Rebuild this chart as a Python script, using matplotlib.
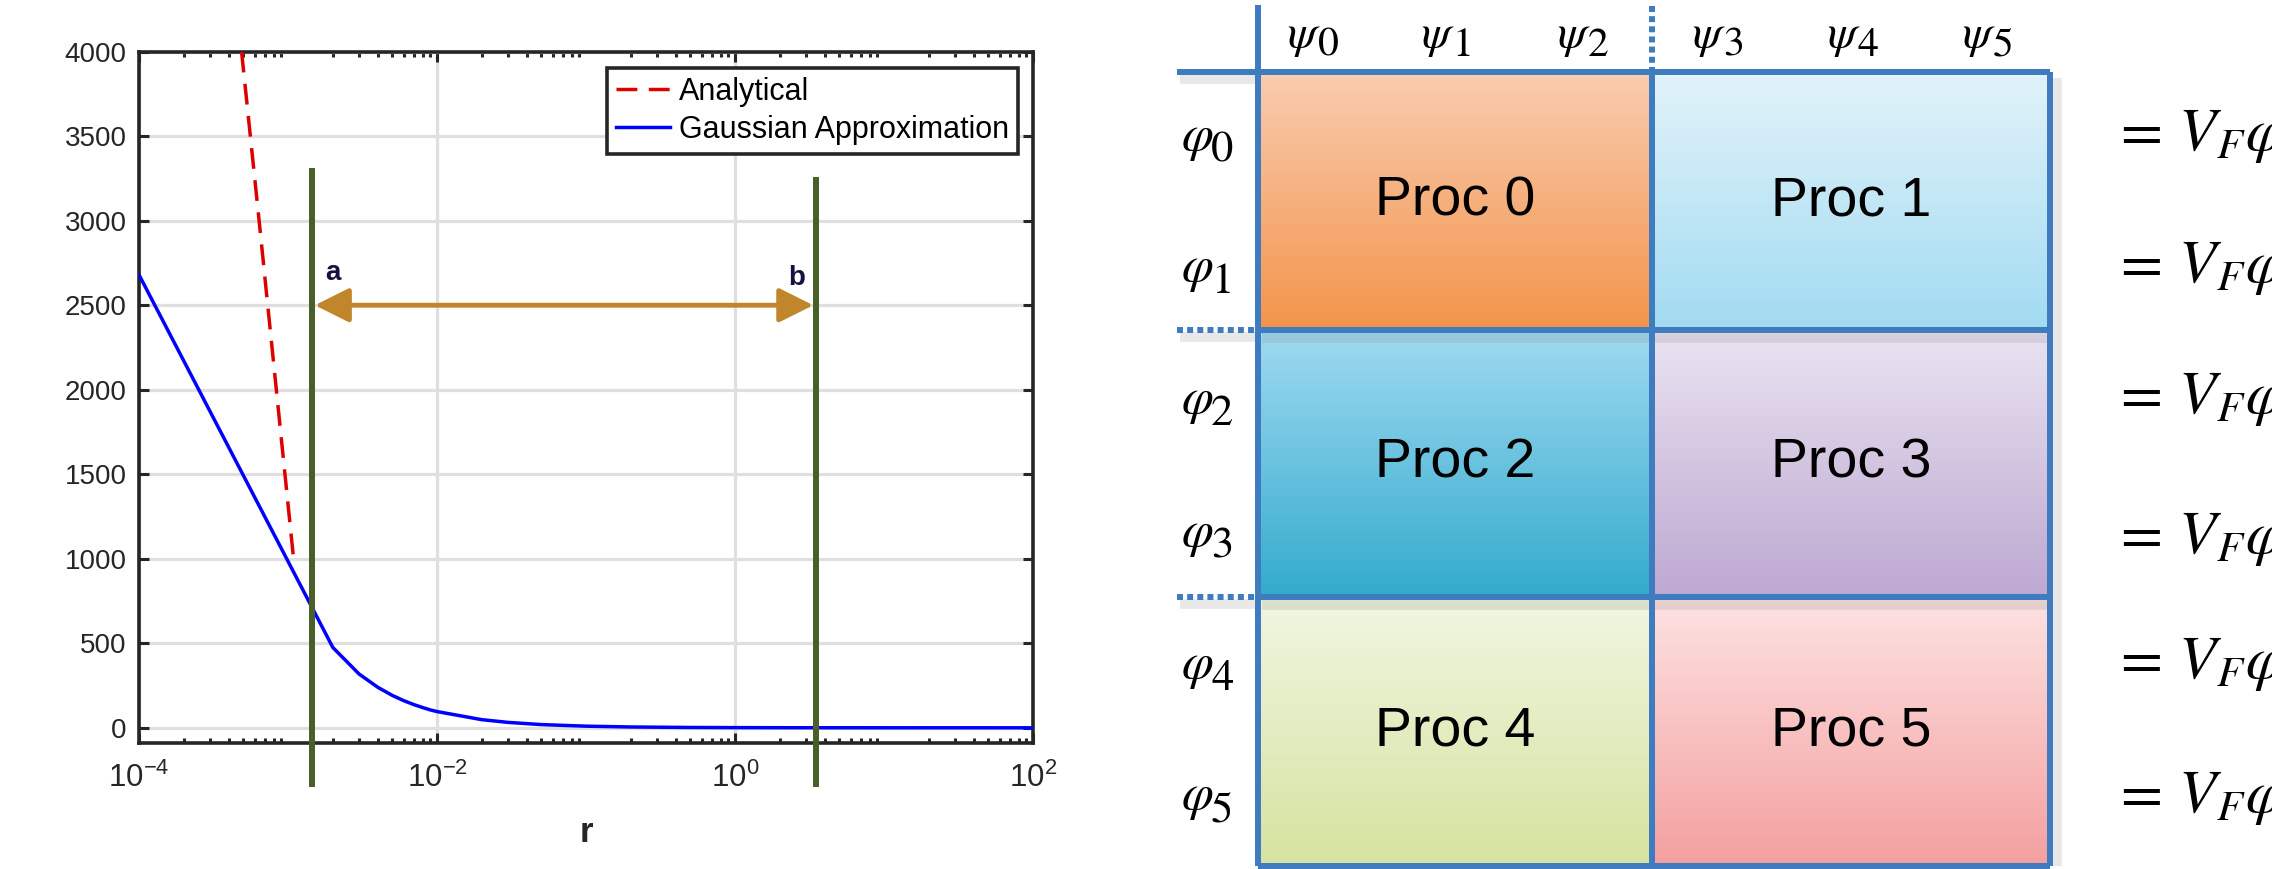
import numpy as np
import matplotlib
matplotlib.use('Agg')
import matplotlib.pyplot as plt
from matplotlib.colors import LinearSegmentedColormap
from matplotlib.ticker import FixedLocator, NullFormatter, LogFormatterSciNotation

plt.rcParams['font.family'] = ['Liberation Sans', 'DejaVu Sans']
plt.rcParams['axes.unicode_minus'] = False

# ---------------- data (left plot) ----------------
r_gauss = [1e-4, 1e-3, 2e-3, 3e-3, 4e-3, 5e-3, 6e-3, 7e-3, 8e-3, 9e-3, 1e-2,
           2e-2, 3e-2, 5e-2, 1e-1, 2e-1, 5e-1, 1, 2, 5, 10, 20, 50, 100]
v_gauss = [2680, 985, 475, 318, 240, 192, 160, 137, 120, 106, 96,
           48, 32, 19, 9.6, 4.8, 1.9, 1.0, 0.5, 0.2, 0.1, 0.05, 0.02, 0.01]

r_anal = [4.88e-4, 6.4e-4, 8.35e-4, 1.09e-3]
v_anal = [4000, 3000, 2000, 1000]

r_a, r_b = 1.45e-3, 3.5          # vertical markers
mark_top = [3310, 3260]
mark_bottom = -350
arrow_y = 2500
label_names = ['a', 'b']
label_r = [2.0e-3, 2.6]
label_v = [2690, 2660]

xticks = [1e-4, 1e-2, 1e0, 1e2]
yticks = list(range(0, 4001, 500))
legend_labels = ['Analytical', 'Gaussian Approximation']

# ---------------- data (right diagram) ----------------
proc_names = ['Proc 0', 'Proc 1', 'Proc 2', 'Proc 3', 'Proc 4', 'Proc 5']
proc_top = ['#f9ccb0', '#e2f3fa', '#a0daf1', '#eae3f1', '#f1f6e2', '#fde2e2']
proc_bot = ['#f3944a', '#a2dbf1', '#33abcd', '#bda8d1', '#d6e39f', '#f4a0a0']
psi_subs = ['0', '1', '2', '3', '4', '5']
phi_subs = ['0', '1', '2', '3', '4', '5']

W, H = 2272, 869
fig = plt.figure(figsize=(W / 100, H / 100), dpi=100)

# ---------------- left plot ----------------
ax_l, ax_r, ax_t, ax_b = 139, 1033, 51.7, 743
ax = fig.add_axes([ax_l / W, 1 - ax_b / H, (ax_r - ax_l) / W, (ax_b - ax_t) / H])
ax.set_xscale('log')
ax.set_xlim(1e-4, 1e2)
ax.set_ylim(-90, 4000)

dark = '#262626'
ax.plot(r_anal, v_anal, color='#dd0000', lw=2.5, ls=(0, (6, 3.3)), label=legend_labels[0], zorder=3)
ax.plot(r_gauss, v_gauss, color='#0000ff', lw=2.5, label=legend_labels[1], zorder=3)

green = '#4a5e29'
for r, top in zip([r_a, r_b], mark_top):
    ax.plot([r, r], [mark_bottom, top], color=green, lw=4.3, clip_on=False, zorder=4,
            solid_capstyle='butt')

ax.annotate('', xy=(r_a, arrow_y), xytext=(r_b, arrow_y),
            arrowprops=dict(arrowstyle='<|-|>,head_length=1.0,head_width=0.5',
                            mutation_scale=21, color='#c1862b', lw=3.5,
                            shrinkA=2, shrinkB=2), zorder=5)
for name, r, v in zip(label_names, label_r, label_v):
    ax.text(r, v, name, color='#16113f', fontsize=20, fontweight='bold',
            ha='center', va='center', zorder=6)

ax.xaxis.set_major_locator(FixedLocator(xticks))
ax.xaxis.set_major_formatter(LogFormatterSciNotation())
minor = [m * 10.0 ** k for k in range(-4, 2) for m in range(2, 10)]
ax.xaxis.set_minor_locator(FixedLocator(minor))
ax.xaxis.set_minor_formatter(NullFormatter())
ax.set_yticks(yticks)

ax.grid(True, which='major', color='#dfdfdf', lw=2.3)
ax.set_axisbelow(True)
for s in ax.spines.values():
    s.set_linewidth(2.6)
    s.set_color(dark)
ax.tick_params(which='both', direction='in', top=True, right=True, color=dark,
               width=2.2, labelcolor=dark)
ax.tick_params(which='major', length=7.5)
ax.tick_params(which='minor', length=3.6)
ax.tick_params(axis='y', pad=9, labelsize=20)
ax.tick_params(axis='x', pad=14, labelsize=22.5)

ax.set_xlabel('r', fontsize=25, fontweight='bold', color=dark)
ax.xaxis.set_label_coords(0.5, (ax_b - 833) / (ax_b - ax_t))
ax.xaxis.label.set_va('center')

leg = ax.legend(loc='upper right', bbox_to_anchor=(1 - 15 / 894, 1 - 16 / 691.3),
                borderaxespad=0, fontsize=22, frameon=True, fancybox=False,
                edgecolor=dark, framealpha=1, handlelength=1.75, handletextpad=0.3,
                labelspacing=0.25, borderpad=0.3)
leg.get_frame().set_linewidth(2.6)

# ---------------- right diagram ----------------
ax2 = fig.add_axes([1100 / W, 0, (W - 1100) / W, 1], zorder=-1)
ax2.set_xlim(1100, W)
ax2.set_ylim(H, 0)
ax2.axis('off')

col_edges = [1258, 1652, 2050]
row_edges = [72, 330, 597, 866]
blue = '#3e7bbf'
lw_box = 4.3

grad = np.linspace(0, 1, 256).reshape(-1, 1)
for i, name in enumerate(proc_names):
    rr, cc = divmod(i, 2)
    x0, x1 = col_edges[cc], col_edges[cc + 1]
    y0, y1 = row_edges[rr], row_edges[rr + 1]
    cmap = LinearSegmentedColormap.from_list('g%d' % i, [proc_top[i], proc_bot[i]])
    ax2.imshow(grad, cmap=cmap, extent=(x0, x1, y1, y0), origin='upper',
               aspect='auto', interpolation='bilinear', zorder=1)
    ax2.text((x0 + x1) / 2, (y0 + y1) / 2, name, fontsize=40, ha='center',
             va='center', color='black', zorder=5)

# shadows
shadow = dict(color='#808080', alpha=0.18, lw=7, solid_capstyle='butt', zorder=2)
ax2.plot([1180, 1258], [79, 79], **shadow)
ax2.plot([2057, 2057], [78, 866], **shadow)
for y in row_edges[1:3]:
    ax2.plot([1180, 1258], [y + 7, y + 7], **shadow)
    ax2.plot([1262, 2050], [y + 8, y + 8], **shadow)

line = dict(color=blue, lw=lw_box, solid_capstyle='butt', zorder=4)
ax2.plot([1258, 1258], [5, 866], **line)
ax2.plot([1177, 2050], [72, 72], **line)
ax2.plot([2050, 2050], [72, 866], **line)
ax2.plot([1258, 2050], [866, 866], **line)
ax2.plot([1652, 1652], [72, 866], **line)
for y in row_edges[1:3]:
    ax2.plot([1258, 2050], [y, y], **line)
    ax2.plot([1177, 1258], [y, y], color=blue, lw=lw_box, ls=(0, (1, 0.7)),
             dash_capstyle='butt', zorder=4)
ax2.plot([1652, 1652], [6, 72], color=blue, lw=lw_box, ls=(0, (1, 0.7)),
         dash_capstyle='butt', zorder=4)

# column headers psi_j
col_label_x = [1312, 1446, 1582, 1717, 1852, 1987]
for x, s in zip(col_label_x, psi_subs):
    ax2.text(x - 8, 47, r'$\psi$', fontsize=34, math_fontfamily='stix',
             ha='center', va='baseline', color='black')
    ax2.text(x + 6, 56, s, fontsize=30, family='STIXGeneral',
             ha='left', va='baseline', color='black')

# row labels phi_i and equations
row_label_y = [140, 271, 403, 536, 668, 799]
eq_y = [135, 267, 398, 538, 663, 797]
for y, s in zip(row_label_y, phi_subs):
    ax2.text(1197, y + 10, r'$\varphi$', fontsize=37, math_fontfamily='stix',
             ha='center', va='baseline', color='black')
    ax2.text(1211, y + 22, s, fontsize=32, family='STIXGeneral',
             ha='left', va='baseline', color='black')
for y, s in zip(eq_y, phi_subs):
    ax2.text(2112, y + 15, r'$=\,V_F\varphi_{%s}$' % s, fontsize=44,
             math_fontfamily='stix', ha='left', va='baseline', color='black')

fig.savefig('out.png', dpi=100, facecolor='white')
